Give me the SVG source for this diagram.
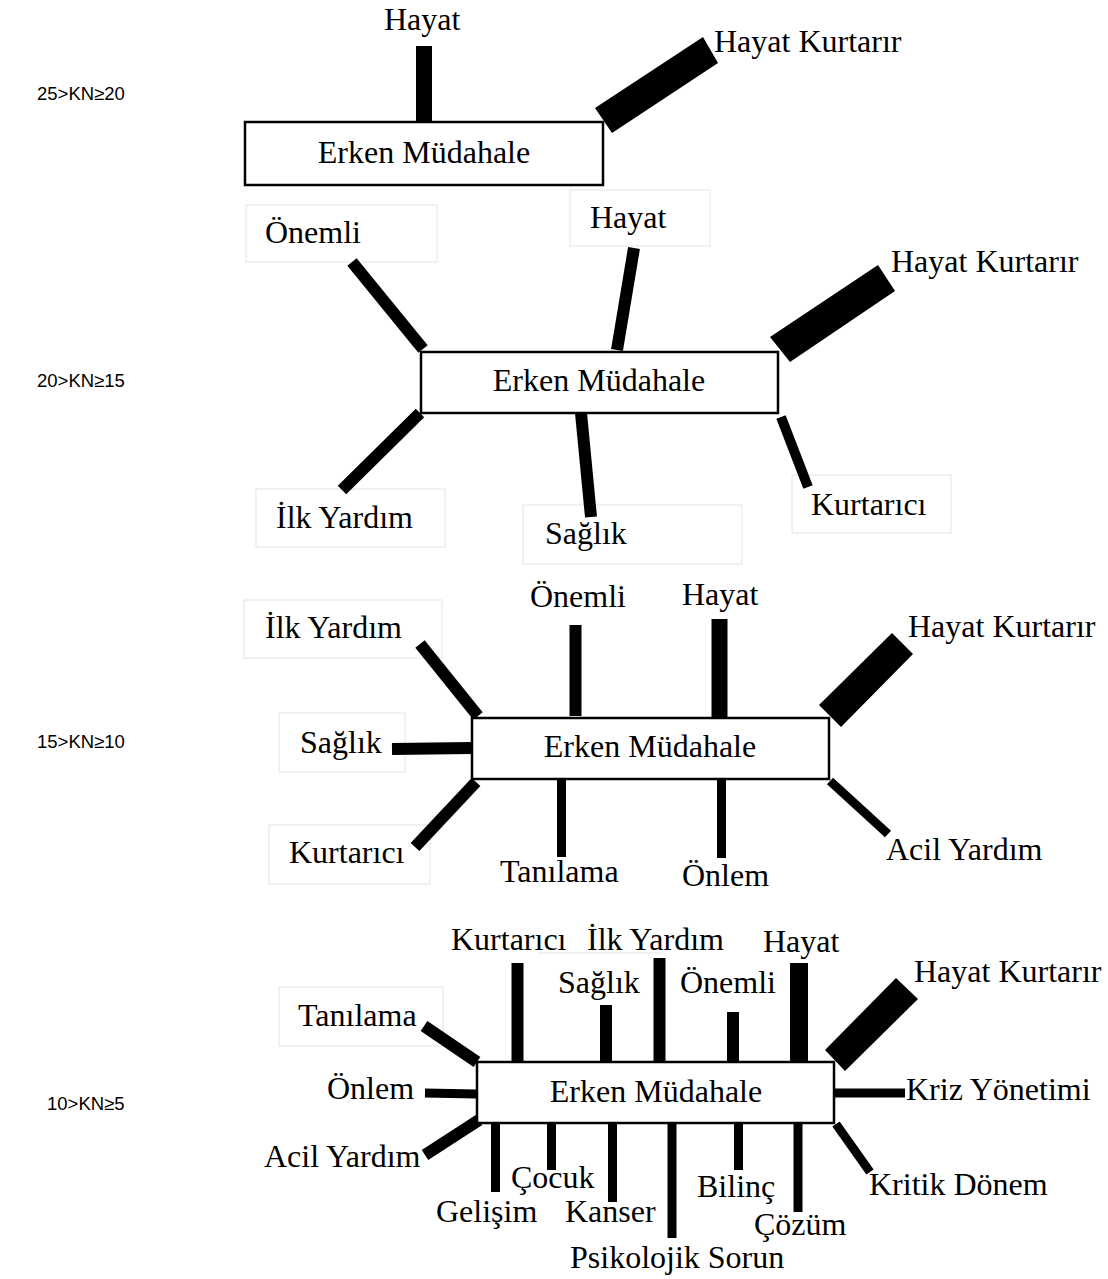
<svg xmlns="http://www.w3.org/2000/svg" width="1108" height="1279" viewBox="0 0 1108 1279">
<style>
.t{font-family:"Liberation Serif","Times New Roman",serif;font-size:32px;fill:#000}
.k{font-family:"Liberation Sans",Arial,sans-serif;font-size:18.5px;fill:#000}
.box{fill:#fff;stroke:#000;stroke-width:2.5}
.lb{fill:#fff;stroke:#e4e4e4;stroke-width:1}
.b{stroke:#000;fill:none}
.w12{stroke-width:12}
.w10{stroke-width:10}
.w9{stroke-width:9}
.w16{stroke-width:16}
.w18{stroke-width:18}
</style>
<rect width="1108" height="1279" fill="#fff"/>

<g id="levels">
<text class="k" x="37" y="100">25&gt;KN≥20</text>
<text class="k" x="37" y="387">20&gt;KN≥15</text>
<text class="k" x="37" y="748">15&gt;KN≥10</text>
<text class="k" x="47" y="1110">10&gt;KN≥5</text>
</g>

<g id="label-boxes">
<rect class="lb" x="246" y="205" width="191" height="57"/>
<rect class="lb" x="570" y="190" width="140" height="56"/>
<rect class="lb" x="256" y="489" width="189" height="58"/>
<rect class="lb" x="523" y="505" width="219" height="59"/>
<rect class="lb" x="792" y="475" width="159" height="58"/>
<rect class="lb" x="244" y="600" width="198" height="58"/>
<rect class="lb" x="279" y="713" width="126" height="59"/>
<rect class="lb" x="269" y="825" width="161" height="59"/>
<rect class="lb" x="279" y="987" width="164" height="59"/>
<line x1="538" y1="953" x2="663" y2="953" stroke="#e4e4e4" stroke-width="1"/>
</g>

<g id="connectors">
<line class="b w16" x1="424" y1="46" x2="424" y2="123"/>
<polygon points="595,108 612,133 718,63 703,37"/>
<line class="b w12" x1="352" y1="262" x2="423" y2="349"/>
<line class="b w12" x1="634" y1="248" x2="617" y2="350"/>
<polygon points="770,337 790,362 895,291 878,265"/>
<line class="b w12" x1="420" y1="413" x2="342" y2="490"/>
<line class="b w12" x1="581" y1="413" x2="591" y2="517"/>
<line class="b w10" x1="781" y1="417" x2="808" y2="487"/>
<line class="b w12" x1="420" y1="644" x2="478" y2="716"/>
<line class="b w12" x1="575.5" y1="625" x2="575.5" y2="716"/>
<line class="b w16" x1="719.5" y1="619" x2="719.5" y2="717"/>
<polygon points="819,705 841,727 913,654 892,633"/>
<line class="b w12" x1="392" y1="749" x2="471" y2="748"/>
<line class="b w12" x1="476" y1="782" x2="415" y2="847"/>
<line class="b w9" x1="561.5" y1="779" x2="561.5" y2="857"/>
<line class="b w9" x1="721.5" y1="779" x2="721.5" y2="858"/>
<line class="b w9" x1="830" y1="781" x2="888" y2="834"/>
<line class="b w12" x1="424" y1="1026" x2="477" y2="1062"/>
<line class="b w12" x1="517.5" y1="963" x2="517.5" y2="1062"/>
<line class="b w12" x1="606" y1="1005" x2="606" y2="1062"/>
<line class="b w12" x1="659.5" y1="958" x2="659.5" y2="1062"/>
<line class="b w12" x1="733" y1="1012" x2="733" y2="1062"/>
<line class="b w18" x1="799" y1="963" x2="799" y2="1062"/>
<polygon points="825,1050 845,1071 918,999 896,978"/>
<line class="b w9" x1="425" y1="1093" x2="476" y2="1094"/>
<line class="b w9" x1="835" y1="1093" x2="905" y2="1093"/>
<line class="b w12" x1="425" y1="1155" x2="479" y2="1120"/>
<line class="b w9" x1="495.5" y1="1123" x2="495.5" y2="1192"/>
<line class="b w9" x1="551.5" y1="1123" x2="551.5" y2="1170"/>
<line class="b w9" x1="612.5" y1="1123" x2="612.5" y2="1202"/>
<line class="b w9" x1="672" y1="1123" x2="672" y2="1238"/>
<line class="b w9" x1="738.5" y1="1123" x2="738.5" y2="1170"/>
<line class="b w9" x1="798" y1="1123" x2="798" y2="1212"/>
<line class="b w9" x1="836" y1="1124" x2="870" y2="1172"/>
</g>

<g id="node1">
<rect class="box" x="245" y="122" width="358" height="63"/>
<text class="t" x="424" y="163" text-anchor="middle">Erken Müdahale</text>
</g>
<g id="n1-hayat"><text class="t" x="384" y="30">Hayat</text></g>
<g id="n1-hk"><text class="t" x="714" y="52">Hayat Kurtarır</text></g>

<g id="node2">
<rect class="box" x="421" y="352" width="357" height="61"/>
<text class="t" x="599" y="391" text-anchor="middle">Erken Müdahale</text>
</g>
<g id="n2-onemli"><text class="t" x="265" y="243">Önemli</text></g>
<g id="n2-hayat"><text class="t" x="590" y="228">Hayat</text></g>
<g id="n2-hk"><text class="t" x="891" y="272">Hayat Kurtarır</text></g>
<g id="n2-ilk"><text class="t" x="276" y="528">İlk Yardım</text></g>
<g id="n2-saglik"><text class="t" x="545" y="544">Sağlık</text></g>
<g id="n2-kurt"><text class="t" x="811" y="515">Kurtarıcı</text></g>

<g id="node3">
<rect class="box" x="472" y="718" width="357" height="61"/>
<text class="t" x="650" y="757" text-anchor="middle">Erken Müdahale</text>
</g>
<g id="n3-ilk"><text class="t" x="265" y="638">İlk Yardım</text></g>
<g id="n3-onemli"><text class="t" x="530" y="607">Önemli</text></g>
<g id="n3-hayat"><text class="t" x="682" y="605">Hayat</text></g>
<g id="n3-hk"><text class="t" x="908" y="637">Hayat Kurtarır</text></g>
<g id="n3-saglik"><text class="t" x="300" y="753">Sağlık</text></g>
<g id="n3-kurt"><text class="t" x="289" y="863">Kurtarıcı</text></g>
<g id="n3-tan"><text class="t" x="500" y="882">Tanılama</text></g>
<g id="n3-onlem"><text class="t" x="682" y="886">Önlem</text></g>
<g id="n3-acil"><text class="t" x="886" y="860">Acil Yardım</text></g>

<g id="node4">
<rect class="box" x="477" y="1062" width="357" height="61"/>
<text class="t" x="656" y="1102" text-anchor="middle">Erken Müdahale</text>
</g>
<g id="n4-kurt"><text class="t" x="451" y="950">Kurtarıcı</text></g>
<g id="n4-ilk"><text class="t" x="587" y="950">İlk Yardım</text></g>
<g id="n4-hayat"><text class="t" x="763" y="952">Hayat</text></g>
<g id="n4-saglik"><text class="t" x="558" y="993">Sağlık</text></g>
<g id="n4-onemli"><text class="t" x="680" y="993">Önemli</text></g>
<g id="n4-hk"><text class="t" x="914" y="982">Hayat Kurtarır</text></g>
<g id="n4-tan"><text class="t" x="298" y="1026">Tanılama</text></g>
<g id="n4-onlem"><text class="t" x="327" y="1099">Önlem</text></g>
<g id="n4-kriz"><text class="t" x="906" y="1100">Kriz Yönetimi</text></g>
<g id="n4-acil"><text class="t" x="264" y="1167">Acil Yardım</text></g>
<g id="n4-kritik"><text class="t" x="869" y="1195">Kritik Dönem</text></g>
<g id="n4-cocuk"><text class="t" x="511" y="1188">Çocuk</text></g>
<g id="n4-gelisim"><text class="t" x="436" y="1222">Gelişim</text></g>
<g id="n4-kanser"><text class="t" x="565" y="1222">Kanser</text></g>
<g id="n4-bilinc"><text class="t" x="697" y="1197">Bilinç</text></g>
<g id="n4-cozum"><text class="t" x="754" y="1235">Çözüm</text></g>
<g id="n4-psiko"><text class="t" x="570" y="1268">Psikolojik Sorun</text></g>
</svg>
